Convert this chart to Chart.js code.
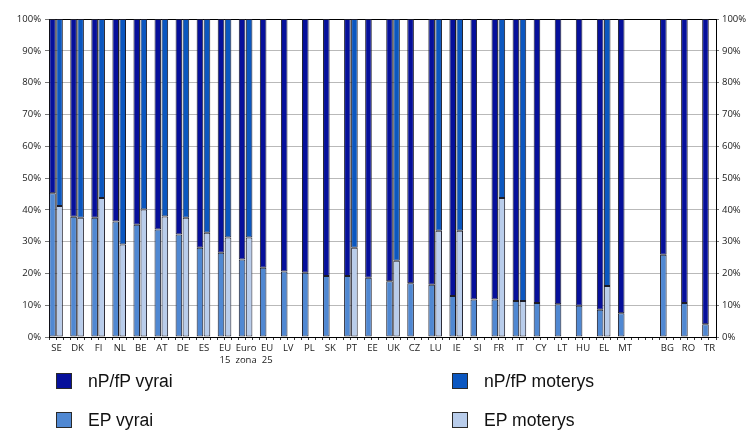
<!DOCTYPE html>
<html>
<head>
<meta charset="utf-8">
<script src="https://cdn.jsdelivr.net/npm/chart.js@4.4.1/dist/chart.umd.min.js"></script>
<style>
    body { margin: 0; background: #fff; }
    #wrap { position: relative; width: 747px; height: 433px; overflow: hidden; }
    #chart { position: absolute; left: 0; top: 0; }
    .legend-item { position: absolute; display: flex; align-items: center; font-family: Arial, "Liberation Sans", sans-serif; font-size: 17.6px; color: #111; white-space: nowrap; }
    .legend-box { width: 14px; height: 14px; border: 1px solid #2a2a2a; margin-right: 16px; }
</style>
</head>
<body>
<div id="wrap">
    <canvas id="chart" width="747" height="433"></canvas>
    <div id="legend"></div>
</div>
<script>
// --- Data ---
const countries = ['SE', 'DK', 'FI', 'NL', 'BE', 'AT', 'DE', 'ES', ['EU', '15'], ['Euro', 'zona'], ['EU', '25'],
    'LV', 'PL', 'SK', 'PT', 'EE', 'UK', 'CZ', 'LU', 'IE', 'SI', 'FR', 'IT', 'CY', 'LT', 'HU', 'EL', 'MT', '',
    'BG', 'RO', 'TR'];

const epMen = [45.2, 37.8, 37.5, 36.3, 35.3, 33.8, 32.2, 28.1, 26.5, 24.4, 21.8,
    20.6, 20.2, 19.2, 19.2, 18.6, 17.5, 16.9, 16.4, 12.9, 11.8, 11.8, 11.3, 10.7, 10.3, 9.8, 8.6, 7.5, null,
    25.9, 10.7, 4.0];
const npMen = [54.8, 62.2, 62.5, 63.7, 64.7, 66.2, 67.8, 71.9, 73.5, 75.6, 78.2,
    79.4, 79.8, 80.8, 80.8, 81.4, 82.5, 83.1, 83.6, 87.1, 88.2, 88.2, 88.7, 89.3, 89.7, 90.2, 91.4, 92.5, null,
    74.1, 89.3, 96.0];
const epWomen = [41.2, 37.5, 43.7, 29.1, 40.1, 37.9, 37.5, 32.8, 31.3, 31.3, null,
    null, null, null, 28.1, null, 24.0, null, 33.4, 33.4, null, 43.7, 11.3, null, null, null, 16.0, null, null,
    null, null, null];
const npWomen = [58.8, 62.5, 56.3, 70.9, 59.9, 62.1, 62.5, 67.2, 68.7, 68.7, null,
    null, null, null, 71.9, null, 76.0, null, 66.6, 66.6, null, 56.3, 88.7, null, null, null, 84.0, null, null,
    null, null, null];

const yTicks = [0, 10, 20, 30, 40, 50, 60, 70, 80, 90, 100];

// --- Colours ---
const colors = {
    npMen: '#06109b',
    npWomen: '#0b57c0',
    epMen: '#5088d2',
    epWomen: '#b9cdeb'
};

// each country gets three slots: men, women, blank (no trailing blank)
const slotLabels = [];
function spread(values, slot) {
    const out = [];
    countries.forEach(function (c, i) {
        for (let s = 0; s < 3; s++) {
            if (i === countries.length - 1 && s === 2) break;
            out.push(s === slot ? values[i] : null);
        }
    });
    return out;
}
countries.forEach(function (c, i) {
    slotLabels.push(c);
    slotLabels.push('');
    if (i < countries.length - 1) slotLabels.push('');
});

const tickFont = { family: '"Open Sans", sans-serif', size: 9.5 };

const datasets = [
    { label: 'EP vyrai', data: spread(epMen, 0), backgroundColor: colors.epMen },
    { label: 'nP/fP vyrai', data: spread(npMen, 0), backgroundColor: colors.npMen },
    { label: 'EP moterys', data: spread(epWomen, 1), backgroundColor: colors.epWomen },
    { label: 'nP/fP moterys', data: spread(npWomen, 1), backgroundColor: colors.npWomen }
].map(function (d) {
    return Object.assign(d, {
        stack: 'all',
        borderColor: '#1c1c28',
        borderWidth: 1,
        borderSkipped: false,
        barPercentage: 0.94,
        categoryPercentage: 1.0
    });
});

const ctx = document.getElementById('chart').getContext('2d');
new Chart(ctx, {
    type: 'bar',
    data: { labels: slotLabels, datasets: datasets },
    options: {
        responsive: false,
        animation: false,
        layout: { padding: { top: 19, left: 0, right: 0, bottom: 0 } },
        plugins: { legend: { display: false }, tooltip: { enabled: false } },
        scales: {
            x: {
                stacked: true,
                grid: { display: true, drawOnChartArea: false, drawTicks: true, tickLength: 3, color: '#333' },
                border: { color: '#000', width: 1 },
                ticks: {
                    autoSkip: false,
                    maxRotation: 0,
                    minRotation: 0,
                    labelOffset: 4,
                    padding: 2,
                    color: '#1a1a1a',
                    font: Object.assign({ lineHeight: 1.25 }, tickFont)
                },
                afterFit: function (s) { s.height = 96; }
            },
            y: {
                stacked: true,
                min: 0,
                max: 100,
                afterBuildTicks: function (s) { s.ticks = yTicks.map(function (v) { return { value: v }; }); },
                grid: {
                    color: function (c) { return c.tick && c.tick.value === 100 ? '#000' : '#b9b9b9'; },
                    tickLength: 4,
                    tickColor: '#777'
                },
                border: { color: '#000', width: 1 },
                ticks: {
                    padding: 4,
                    color: '#1a1a1a',
                    font: tickFont,
                    callback: function (v) { return v + '%'; }
                },
                afterFit: function (s) { s.width = 49; }
            },
            y2: {
                position: 'right',
                min: 0,
                max: 100,
                afterBuildTicks: function (s) { s.ticks = yTicks.map(function (v) { return { value: v }; }); },
                grid: { drawOnChartArea: false, tickLength: 3, color: '#777' },
                border: { color: '#000', width: 1 },
                ticks: {
                    padding: 3,
                    color: '#1a1a1a',
                    font: tickFont,
                    callback: function (v) { return v + '%'; }
                },
                afterFit: function (s) { s.width = 31; }
            }
        }
    }
});

// --- Legend (2 x 2 layout as in the source figure) ---
const legendItems = [
    { label: 'nP/fP vyrai', color: colors.npMen, left: 56, top: 373 },
    { label: 'nP/fP moterys', color: colors.npWomen, left: 452, top: 373 },
    { label: 'EP vyrai', color: colors.epMen, left: 56, top: 412 },
    { label: 'EP moterys', color: colors.epWomen, left: 452, top: 412 }
];
const legendEl = document.getElementById('legend');
legendItems.forEach(function (item) {
    const el = document.createElement('div');
    el.className = 'legend-item';
    el.style.left = item.left + 'px';
    el.style.top = item.top + 'px';
    el.style.height = '16px';
    el.innerHTML = '<span class="legend-box" style="background:' + item.color + '"></span><span>' + item.label + '</span>';
    legendEl.appendChild(el);
});
</script>
</body>
</html>
